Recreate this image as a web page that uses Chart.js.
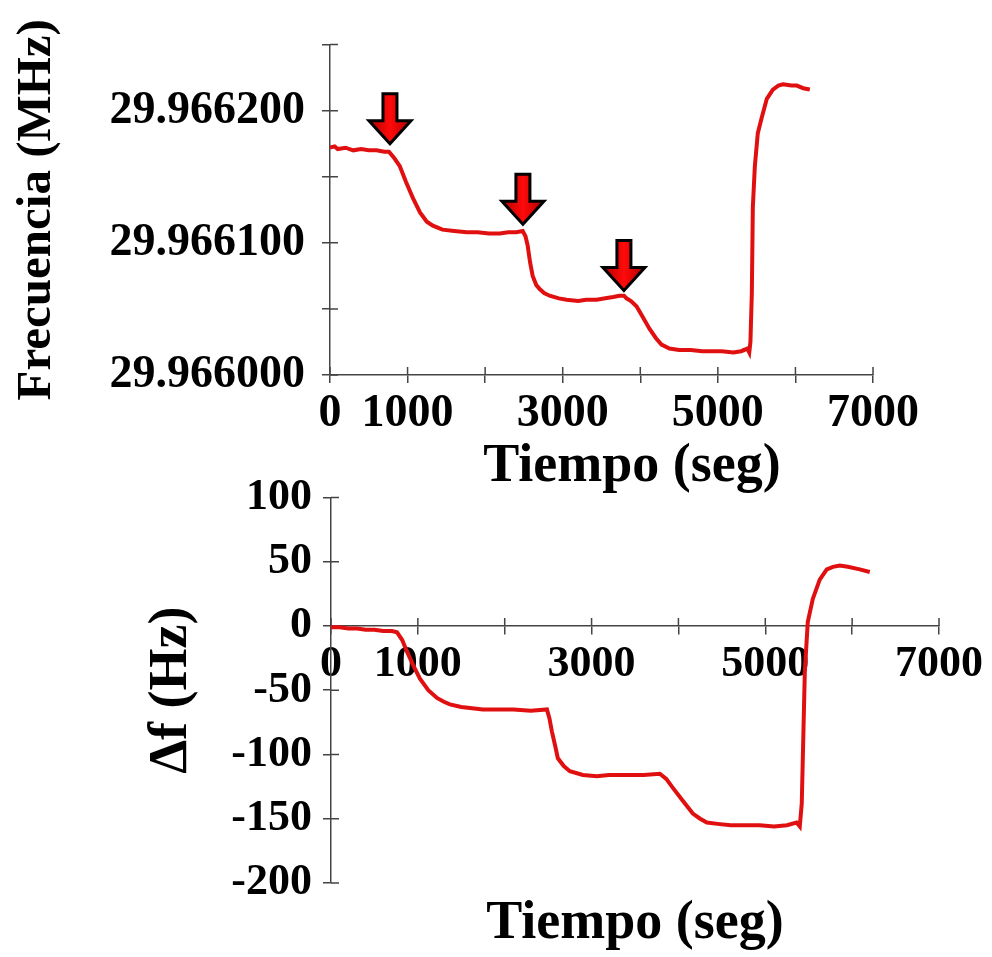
<!DOCTYPE html>
<html lang="es">

<head>
    <meta charset="UTF-8">
    <meta name="viewport" content="width=device-width, initial-scale=1.0">
    <title>Frecuencia y Δf frente al tiempo</title>
    <script src="https://cdn.jsdelivr.net/npm/chart.js"></script>
    <style>
        body {
            margin: 0;
            background: #fff;
            overflow: hidden;
        }

        .panel {
            position: absolute;
            left: 0;
            width: 992px;
        }

        #panel-frecuencia {
            top: 0;
            height: 500px;
        }

        #panel-delta {
            top: 460px;
            height: 497px;
        }
    </style>
</head>

<body>
    <div class="panel" id="panel-frecuencia"><canvas id="chartFrecuencia"></canvas></div>
    <div class="panel" id="panel-delta"><canvas id="chartDelta"></canvas></div>

    <script>
        // panel superior: frecuencia absoluta (Hz) frente al tiempo (s)
        const tiempoFrec = [0, 60, 100, 200, 300, 400, 500, 600, 700, 760, 830, 900, 980, 1068, 1160, 1248, 1326,
            1450, 1600, 1763, 1900, 2050, 2188, 2300, 2400, 2484, 2520, 2548, 2580, 2613, 2660, 2703, 2760,
            2831, 2950, 3050, 3200, 3300, 3436, 3550, 3650, 3732, 3790, 3822, 3880, 3951, 4030, 4118, 4200,
            4273, 4376, 4500, 4650, 4800, 4929, 5050, 5200, 5300, 5380, 5405, 5420, 5438, 5451, 5477, 5515, 5567,
            5631, 5709, 5780, 5838, 5950, 6018, 6100, 6186];
        const frecuenciaHz = [29966172, 29966173, 29966171, 29966172, 29966170, 29966171, 29966170, 29966170, 29966169,
            29966169, 29966164, 29966158, 29966146, 29966134, 29966123, 29966116, 29966113, 29966110, 29966109,
            29966108, 29966108, 29966107, 29966107, 29966108, 29966108, 29966109, 29966105, 29966098, 29966085,
            29966075, 29966068, 29966065, 29966062, 29966060, 29966058, 29966057, 29966056, 29966057, 29966057,
            29966058, 29966059, 29966060, 29966060, 29966058, 29966056, 29966052, 29966044, 29966035, 29966028,
            29966023, 29966020, 29966019, 29966019, 29966018, 29966018, 29966018, 29966017, 29966018, 29966020, 29966017,
            29966025, 29966062, 29966127, 29966158, 29966183, 29966195, 29966209, 29966216, 29966219, 29966220, 29966219,
            29966219, 29966217, 29966216];

        // flechas rojas: momento de cada inyeccion
        const flechaTiempo = [773, 2487, 3789];
        const flechaFrecHz = [29966175, 29966114, 29966064];

        // panel inferior: desplazamiento de frecuencia (Hz)
        const tiempoDelta = [0, 100, 200, 300, 400, 500, 600, 700, 760, 820, 875, 950, 1024, 1120, 1220, 1300,
            1369, 1500, 1749, 1900, 2100, 2300, 2486, 2515, 2543, 2580, 2612, 2680, 2750, 2900, 3061, 3200,
            3400, 3600, 3786, 3860, 3936, 4050, 4166, 4250, 4327, 4450, 4600, 4800, 4937, 5100, 5250, 5360, 5397,
            5420, 5440, 5455, 5489, 5547, 5627, 5708, 5780, 5857, 5950, 6087, 6203];
        const deltaHz = [-1, -1, -2, -2, -3, -3, -4, -4, -5, -11, -20, -31, -41, -50, -56, -59, -61, -63, -65,
            -65, -65, -66, -65, -72, -82, -93, -103, -109, -113, -116, -117, -116, -116, -116, -115, -119, -126,
            -136, -146, -150, -153, -154, -155, -155, -155, -156, -155, -153, -156, -138, -80, -36, 3, 21, 36, 44,
            46, 47, 46, 44, 42];

        const etiquetasTiempo = [0, 1000, 3000, 5000, 7000];
        const etiquetasFrecHz = [29966000, 29966100, 29966200];

        const serif = "'Liberation Serif', 'Times New Roman', serif";
        const rojo = '#e01010';
        const colorEje = '#444';

        Chart.defaults.font.family = serif;
        Chart.defaults.color = '#000';

        // marcas de graduacion que cruzan el eje (la mitad interior)
        const cruzTicks = {
            id: 'cruzTicks',
            beforeDatasetsDraw(chart) {
                const { ctx, chartArea, scales: { x, y } } = chart;
                const pos = x.options.position;
                const yEje = typeof pos === 'object' ? y.getPixelForValue(pos.y) : chartArea.bottom;
                ctx.save();
                ctx.strokeStyle = colorEje;
                ctx.lineWidth = 1.5;
                ctx.beginPath();
                x.ticks.forEach((tk) => {
                    const px = x.getPixelForValue(tk.value);
                    ctx.moveTo(px, yEje);
                    ctx.lineTo(px, yEje - 8);
                });
                y.ticks.forEach((tk) => {
                    const py = y.getPixelForValue(tk.value);
                    ctx.moveTo(chartArea.left, py);
                    ctx.lineTo(chartArea.left + 8, py);
                });
                ctx.stroke();
                ctx.restore();
            }
        };

        // flechas hacia abajo en los puntos de inyeccion
        const flechas = {
            id: 'flechas',
            afterDatasetsDraw(chart, args, opts) {
                if (!opts.tiempos) return;
                const { ctx, scales: { x, y } } = chart;
                ctx.save();
                ctx.lineWidth = 3;
                ctx.lineJoin = 'miter';
                ctx.strokeStyle = '#000';
                opts.tiempos.forEach((t, i) => {
                    const px = x.getPixelForValue(t);
                    const py = y.getPixelForValue(opts.valores[i]);
                    ctx.beginPath();
                    ctx.moveTo(px, py);
                    ctx.lineTo(px - 21, py - 23);
                    ctx.lineTo(px - 7, py - 23);
                    ctx.lineTo(px - 7, py - 50);
                    ctx.lineTo(px + 7, py - 50);
                    ctx.lineTo(px + 7, py - 23);
                    ctx.lineTo(px + 21, py - 23);
                    ctx.closePath();
                    const grad = ctx.createLinearGradient(px - 21, 0, px + 21, 0);
                    grad.addColorStop(0, '#b00000');
                    grad.addColorStop(0.5, '#ff0a0a');
                    grad.addColorStop(1, '#b00000');
                    ctx.fillStyle = grad;
                    ctx.fill();
                    ctx.stroke();
                });
                ctx.restore();
            }
        };

        // titulo del eje x superior (desplazado respecto al centro del eje)
        const tituloLibre = {
            id: 'tituloLibre',
            afterDraw(chart, args, opts) {
                if (!opts.text) return;
                const { ctx, chartArea } = chart;
                ctx.save();
                ctx.font = `bold ${opts.size}px ${serif}`;
                ctx.fillStyle = '#000';
                ctx.textAlign = 'center';
                ctx.textBaseline = 'middle';
                ctx.fillText(opts.text, chartArea.left + opts.dx, chartArea.bottom + opts.dy);
                ctx.restore();
            }
        };

        const gridEje = { drawOnChartArea: false, drawTicks: true, tickLength: 8, color: colorEje, lineWidth: 1.5 };
        const bordeEje = { display: true, color: colorEje, width: 1.5 };

        new Chart(document.getElementById('chartFrecuencia'), {
            type: 'line',
            data: {
                datasets: [{
                    data: tiempoFrec.map((t, i) => ({ x: t, y: frecuenciaHz[i] })),
                    borderColor: rojo,
                    borderWidth: 4,
                    pointRadius: 0,
                    tension: 0,
                    fill: false
                }]
            },
            options: {
                responsive: true,
                maintainAspectRatio: false,
                animation: false,
                layout: { padding: { top: 36, right: 119, left: 0, bottom: 0 } },
                plugins: {
                    legend: { display: false },
                    tooltip: { enabled: false },
                    flechas: { tiempos: flechaTiempo, valores: flechaFrecHz },
                    tituloLibre: { text: 'Tiempo (seg)', size: 54, dx: 302, dy: 92 }
                },
                scales: {
                    x: {
                        type: 'linear',
                        position: 'bottom',
                        min: 0,
                        max: 7000,
                        afterFit: (s) => { s.height = 125; },
                        ticks: {
                            stepSize: 1000,
                            autoSkip: false,
                            maxRotation: 0,
                            padding: 4,
                            font: { size: 46, weight: 'bold' },
                            callback: (v) => etiquetasTiempo.includes(v) ? String(v) : ''
                        },
                        grid: gridEje,
                        border: bordeEje
                    },
                    y: {
                        min: 29966000,
                        max: 29966250,
                        afterFit: (s) => { s.width = 330; },
                        ticks: {
                            stepSize: 50,
                            autoSkip: false,
                            padding: 17,
                            font: { size: 46, weight: 'bold' },
                            callback: (v) => etiquetasFrecHz.includes(v) ? (v / 1e6).toFixed(6) : ''
                        },
                        grid: gridEje,
                        border: bordeEje,
                        title: {
                            display: true,
                            text: 'Frecuencia (MHz)',
                            font: { size: 49, weight: 'bold', lineHeight: 1 },
                            padding: { top: 13, bottom: 0 }
                        }
                    }
                }
            },
            plugins: [cruzTicks, flechas, tituloLibre]
        });

        new Chart(document.getElementById('chartDelta'), {
            type: 'line',
            data: {
                datasets: [{
                    data: tiempoDelta.map((t, i) => ({ x: t, y: deltaHz[i] })),
                    borderColor: rojo,
                    borderWidth: 4,
                    pointRadius: 0,
                    tension: 0,
                    fill: false
                }]
            },
            options: {
                responsive: true,
                maintainAspectRatio: false,
                animation: false,
                layout: { padding: { top: 35, right: 53, left: 0, bottom: 0 } },
                plugins: {
                    legend: { display: false },
                    tooltip: { enabled: false },
                    title: {
                        display: true,
                        position: 'bottom',
                        fullSize: false,
                        text: 'Tiempo (seg)',
                        color: '#000',
                        font: { size: 54, weight: 'bold', lineHeight: 1 },
                        padding: { top: 14, bottom: 6 }
                    }
                },
                scales: {
                    x: {
                        type: 'linear',
                        position: { y: 0 },
                        min: 0,
                        max: 7000,
                        ticks: {
                            stepSize: 1000,
                            autoSkip: false,
                            maxRotation: 0,
                            padding: 4,
                            font: { size: 44, weight: 'bold' },
                            callback: (v) => etiquetasTiempo.includes(v) ? String(v) : ''
                        },
                        grid: gridEje,
                        border: bordeEje
                    },
                    y: {
                        min: -200,
                        max: 100,
                        afterFit: (s) => { s.width = 331; },
                        ticks: {
                            stepSize: 50,
                            autoSkip: false,
                            padding: 11,
                            font: { size: 44, weight: 'bold' }
                        },
                        grid: gridEje,
                        border: bordeEje,
                        title: {
                            display: true,
                            text: 'Δf (Hz)',
                            font: { size: 54, weight: 'bold', lineHeight: 1 },
                            padding: { top: 145, bottom: 0 }
                        }
                    }
                }
            },
            plugins: [cruzTicks]
        });
    </script>
</body>

</html>
